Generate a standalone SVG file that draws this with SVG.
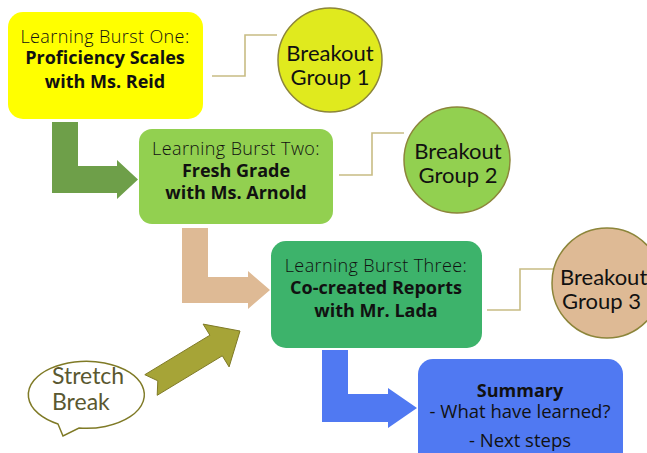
<svg xmlns="http://www.w3.org/2000/svg" width="647" height="453" viewBox="0 0 647 453">
<style>
text{font-family:Lato,"Noto Sans","Liberation Sans",sans-serif;fill:#111;text-anchor:middle}
.t{font-family:"Open Sans",Lato,sans-serif;font-size:18px;font-weight:300;letter-spacing:0.4px}
.b{font-family:"Open Sans",Lato,sans-serif;font-size:18px;font-weight:700}
.r{font-family:"Open Sans",Lato,sans-serif;font-size:18.5px;font-weight:400}
.c{font-size:22px}
.circ{stroke:#8C853A;stroke-width:1.5}
.conn{fill:none;stroke:#C8BC84;stroke-width:1.6}
</style>
<rect width="647" height="453" fill="#fff"/>
<g id="connectors">
<path class="conn" d="M212,76 H245 V35 H277"/>
<path class="conn" d="M339,175 H372 V133 H404"/>
<path class="conn" d="M487,310 H520 V269 H553"/>
<path d="M52,122 H78 V166 H117 V160 L138,179.5 L117,199 V193 H52 Z" fill="#6E9F49"/>
<path d="M182,228 H208 V277 H248 V271 L270,290 L248,309 V303 H182 Z" fill="#DEBA95"/>
<path d="M322,350 H348 V394 H388 V388 L417,408 L388,428 V422 H322 Z" fill="#5079F2"/>
<path d="M144.8,374.7 L157.8,380.8 L157.2,395.3 L222.3,355.8 L229.1,366.9 L240,331 L203.1,324.1 L209.9,335.2 Z" fill="#A6A437" stroke="#7F7A26" stroke-width="1"/>
</g>
<g id="burst1">
<rect x="8" y="12" width="195" height="107" rx="15" fill="#FFFF00"/>
<text class="t" x="105" y="43">Learning Burst One:</text>
<text class="b" x="105" y="64">Proficiency Scales</text>
<text class="b" x="105" y="88">with Ms. Reid</text>
</g>
<g id="group1">
<circle class="circ" cx="330" cy="60" r="52" fill="#E0EA1E"/>
<text class="c" x="330" y="61">Breakout</text>
<text class="c" x="330" y="85">Group 1</text>
</g>
<g id="burst2">
<rect x="139" y="129" width="194" height="95" rx="13" fill="#92D050"/>
<text class="t" x="236" y="155">Learning Burst Two:</text>
<text class="b" x="236" y="177">Fresh Grade</text>
<text class="b" x="236" y="199">with Ms. Arnold</text>
</g>
<g id="group2">
<circle class="circ" cx="457" cy="160" r="53" fill="#92D050"/>
<text class="c" x="458" y="159">Breakout</text>
<text class="c" x="458" y="183">Group 2</text>
</g>
<g id="burst3">
<rect x="271" y="241" width="211" height="107" rx="15" fill="#3DB36B"/>
<text class="t" x="376" y="272">Learning Burst Three:</text>
<text class="b" x="376" y="294">Co-created Reports</text>
<text class="b" x="376" y="317">with Mr. Lada</text>
</g>
<g id="group3">
<circle class="circ" cx="607" cy="283" r="55" fill="#DEBA95"/>
<text class="c" x="560" y="285" style="text-anchor:start">Breakout</text>
<text class="c" x="562" y="309" style="text-anchor:start">Group 3</text>
</g>
<g id="summary">
<rect x="418" y="359" width="205" height="115" rx="15" fill="#5079F2"/>
<text class="b" x="520" y="397">Summary</text>
<text class="r" x="520" y="418">- What have learned?</text>
<text class="r" x="520" y="447">- Next steps</text>
</g>
<g id="stretch">
<path d="M58,424 A58,33.5 0 1 1 79,428 L63,436 Z" fill="#fff" stroke="#7F7A26" stroke-width="1.5"/>
<text class="c" x="52" y="384" style="text-anchor:start;fill:#5A5830;font-size:23px">Stretch</text>
<text class="c" x="52" y="410" style="text-anchor:start;fill:#5A5830;font-size:23px">Break</text>
</g>
</svg>
